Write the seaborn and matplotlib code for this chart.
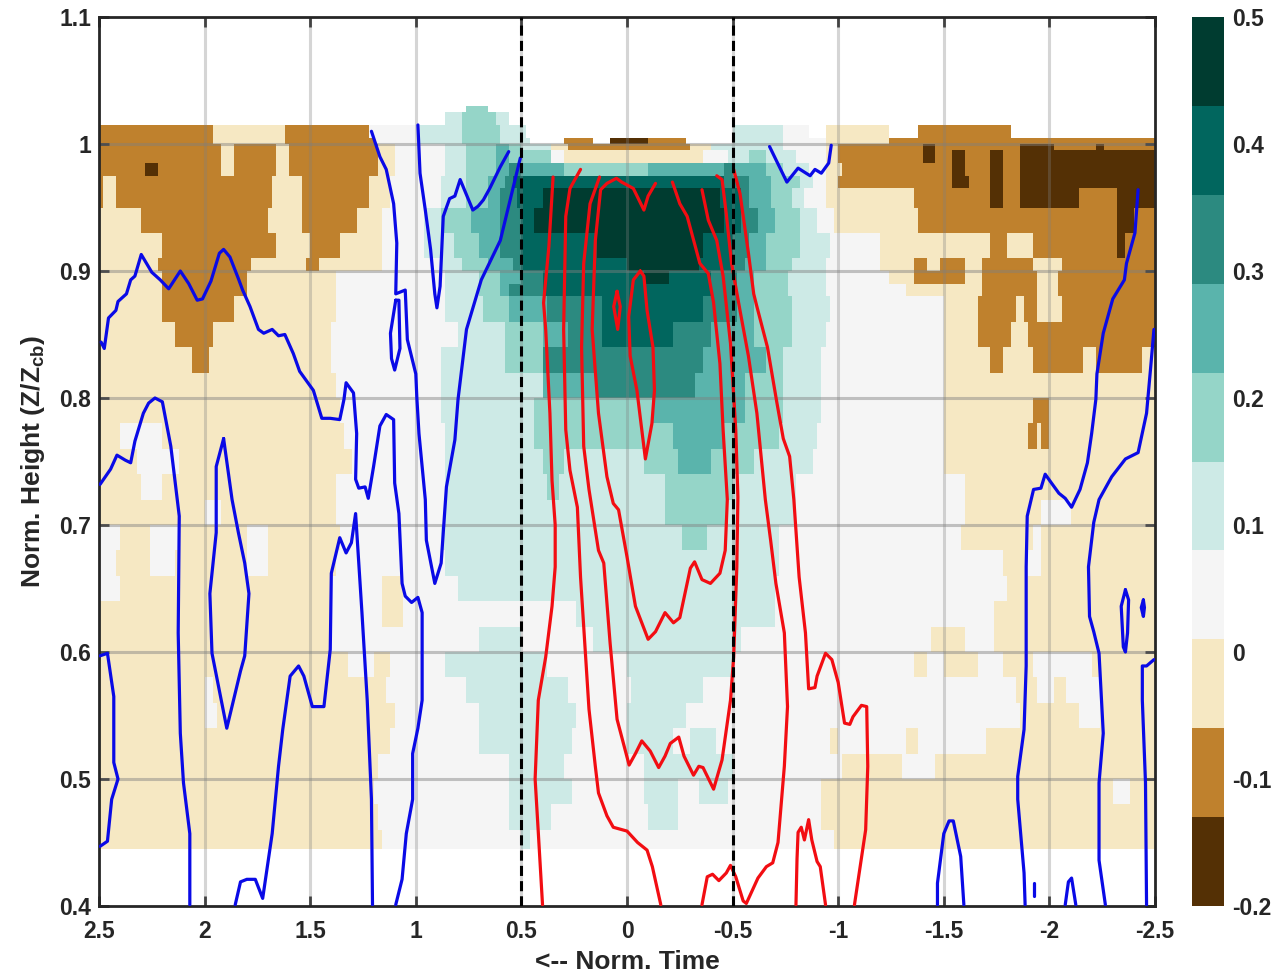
import numpy as np
import pandas as pd
import matplotlib
matplotlib.use("Agg")
import matplotlib.pyplot as plt
from matplotlib.colors import ListedColormap
import seaborn as sns

band_colors = ["#543005", "#bf812d", "#f6e8c3", "#f5f5f5", "#cdeae6",
               "#95d5c8", "#5ab4ac", "#2c8a80", "#01665e", "#003c30"]
cbar_ticks = [-0.2, -0.1, 0, 0.1, 0.2, 0.3, 0.4, 0.5]
cbar_labels = ["-0.2", "-0.1", "0", "0.1", "0.2", "0.3", "0.4", "0.5"]
x_ticks = [2.5, 2, 1.5, 1, 0.5, 0, -0.5, -1, -1.5, -2, -2.5]
x_labels = ["2.5", "2", "1.5", "1", "0.5", "0", "-0.5", "-1", "-1.5", "-2", "-2.5"]
y_ticks = [0.4, 0.5, 0.6, 0.7, 0.8, 0.9, 1, 1.1]
y_labels = ["0.4", "0.5", "0.6", "0.7", "0.8", "0.9", "1", "1.1"]

# band index by height row: pairs of (band, time where the run ends); -1 = no data
heat_tops = [1.03, 1.025, 1.015, 1.005, 1.0, .995, .985, .975, .965, .95, .93, .91, .90, .89, .88,
             .86, .84, .82, .80, .78, .76, .74, .72, .70, .68, .66, .64, .62, .60, .58, .56, .54,
             .52, .50, .48, .46, .445]
heat_runs = [
 [-1,.76, 5,.66, -1,-2.5],
 [-1,.85, 4,.78, 5,.62, 4,.56, -1,-2.5],
 [1,1.96, 2,1.63, 1,1.22, 3,.97, 4,.78, 5,.6, 4,.47, -1,-.5, 4,-.74, 3,-.85, -1,-.93, 2,-1.25, -1,-1.37, 1,-1.82, -1,-2.5],
 [1,1.96, 2,1.63, 1,1.2, 3,.97, 4,.78, 5,.6, 4,.45, -1,.29, 1,.17, -1,.08, 0,-.1, 1,-.28, -1,-.5, 4,-.74, 3,-.93, 2,-1.25, 1,-2.5],
 [1,1.92, 2,1.85, 1,1.66, 2,1.6, 1,1.18, 2,1.1, 3,.85, 4,.76, 5,.62, 6,.55, 5,.5, 4,.35, 2,.28, 1,-.3, 2,-.4, 4,-.74, 3,-.93, 2,-1.0, 1,-1.4, 0,-1.47, 1,-1.86, 0,-2.02, 1,-2.22, 0,-2.27, 1,-2.5],
 [1,1.92, 2,1.85, 1,1.66, 2,1.6, 1,1.18, 2,1.1, 3,.85, 4,.76, 5,.62, 6,.55, 5,.36, 3,.3, 2,-.35, 3,-.48, 4,-.58, 5,-.66, 4,-.8, 3,-.93, 2,-1.0, 1,-1.4, 0,-1.47, 1,-1.55, 0,-1.6, 1,-1.72, 0,-1.79, 1,-1.86, 0,-2.5],
 [1,2.28, 0,2.22, 1,1.91, 2,1.85, 1,1.66, 2,1.6, 1,1.17, 2,1.1, 3,.85, 4,.76, 5,.62, 6,.55, 7,.5, 6,.3, 5,-.1, 6,-.45, 7,-.5, 6,-.66, 5,-.74, 4,-.85, 3,-.93, 2,-1.02, 1,-1.55, 0,-1.6, 1,-1.72, 0,-1.79, 1,-1.86, 0,-2.5],
 [1,2.47, 2,2.42, 1,1.68, 2,1.53, 1,1.22, 2,1.12, 3,.88, 4,.76, 5,.66, 6,.58, 7,.54, 8,-.45, 7,-.58, 6,-.68, 5,-.82, 4,-.88, 3,-.93, 2,-1.01, 1,-1.55, 0,-1.62, 1,-1.72, 0,-1.79, 1,-1.86, 0,-2.5],
 [1,2.47, 2,2.42, 1,1.68, 2,1.53, 1,1.22, 2,1.12, 3,.88, 4,.76, 5,.66, 6,.6, 7,.52, 8,.39, 9,-.44, 8,-.54, 7,-.58, 6,-.68, 5,-.78, 4,-.84, 3,-.95, 2,-1.36, 1,-1.72, 0,-1.79, 1,-1.86, 0,-2.14, 1,-2.32, 0,-2.5],
 [2,2.3, 1,1.7, 2,1.53, 1,1.28, 2,1.15, 3,.95, 4,.87, 5,.74, 6,.6, 7,.5, 8,.44, 9,-.45, 8,-.54, 7,-.62, 6,-.7, 5,-.82, 4,-.9, 3,-.98, 2,-1.37, 1,-2.32, 0,-2.41, 1,-2.5],
 [2,2.2, 1,1.66, 2,1.5, 1,1.36, 2,1.15, 3,.96, 4,.82, 5,.7, 6,.6, 7,.5, 8,.14, 9,-.35, 8,-.5, 7,-.58, 6,-.66, 5,-.82, 4,-.97, 3,-1.2, 2,-1.72, 1,-1.8, 2,-1.92, 1,-2.32, 0,-2.36, 1,-2.5],
 [2,2.22, 1,1.78, 2,1.52, 1,1.45, 2,1.15, 3,.88, 4,.78, 5,.65, 6,.54, 7,.5, 8,.01, 9,-.33, 8,-.5, 7,-.56, 6,-.66, 5,-.78, 4,-.94, 3,-1.2, 2,-1.36, 1,-1.43, 2,-1.48, 1,-1.6, 2,-1.69, 1,-1.92, 2,-2.06, 1,-2.5],
 [2,2.2, 1,1.8, 2,1.37, 3,.86, 4,.7, 5,.6, 6,.5, 7,.39, 8,-.09, 9,-.2, 8,-.39, 7,-.53, 6,-.6, 5,-.77, 4,-.95, 3,-1.25, 2,-1.36, 1,-1.6, 2,-1.69, 1,-1.95, 2,-2.05, 1,-2.5],
 [2,2.2, 1,1.8, 2,1.37, 3,.85, 4,.7, 5,.6, 6,.55, 7,.39, 8,-.39, 7,-.53, 6,-.6, 5,-.77, 4,-.95, 3,-1.33, 2,-1.69, 1,-1.95, 2,-2.05, 1,-2.5],
 [2,2.2, 1,1.85, 2,1.38, 3,.85, 4,.68, 5,.55, 6,.38, 7,.13, 8,-.35, 7,-.53, 6,-.6, 5,-.78, 4,-.97, 3,-1.5, 2,-1.67, 1,-1.84, 2,-1.89, 1,-1.95, 2,-2.06, 1,-2.5],
 [2,2.15, 1,1.95, 2,1.4, 3,.8, 4,.58, 5,.39, 6,.27, 7,.12, 8,-.23, 7,-.4, 6,-.6, 5,-.78, 4,-.95, 3,-1.5, 2,-1.67, 1,-1.83, 2,-1.91, 1,-2.5],
 [2,2.05, 1,1.97, 2,1.4, 3,.87, 4,.58, 5,.39, 7,-.35, 6,-.66, 5,-.74, 4,-.91, 3,-1.5, 2,-1.72, 1,-1.78, 2,-1.92, 1,-2.16, 2,-2.22, 1,-2.44, 2,-2.5],
 [2,1.38, 3,.87, 4,.39, 6,.14, 7,-.32, 6,-.57, 5,-.74, 4,-.91, 3,-1.5, 2,-2.5],
 [2,1.35, 3,.88, 4,.44, 5,-.13, 6,-.56, 5,-.75, 4,-.92, 3,-1.5, 2,-1.93, 1,-2.0, 2,-2.5],
 [2,2.4, 3,2.2, 2,1.33, 3,.86, 4,.44, 5,-.23, 6,-.47, 5,-.73, 4,-.9, 3,-1.5, 2,-1.9, 1,-1.95, 2,-1.96, 1,-2.0, 2,-2.5],
 [2,2.32, 3,2.12, 2,1.3, 3,.85, 4,.39, 5,.29, 4,-.08, 5,-.25, 6,-.4, 5,-.6, 4,-.87, 3,-1.5, 2,-2.5],
 [2,2.3, 3,2.2, 2,1.38, 3,.85, 4,.38, 5,.32, 4,-.19, 5,-.5, 4,-.8, 3,-1.6, 2,-2.5],
 [2,2.0, 3,1.92, 2,1.38, 3,.85, 4,-.19, 5,-.48, 4,-.8, 3,-1.6, 2,-1.97, 3,-2.1, 2,-2.5],
 [3,2.4, 2,2.25, 3,2.12, 2,1.8, 3,1.7, 2,1.35, 3,.87, 4,-.26, 5,-.38, 4,-.72, 3,-1.58, 2,-1.92, 3,-1.97, 2,-2.5],
 [3,2.42, 2,2.25, 3,2.15, 2,1.8, 3,1.7, 2,1.37, 3,.85, 4,-.72, 3,-1.78, 2,-1.91, 3,-1.97, 2,-2.5],
 [3,2.4, 2,1.4, 3,1.15, 2,1.05, 3,.8, 4,-.71, 3,-1.8, 2,-2.5],
 [2,1.4, 3,1.15, 2,1.05, 3,.24, 4,-.71, 3,-1.75, 2,-2.5],
 [2,1.4, 3,.7, 4,.5, 3,.16, 4,-.55, 3,-1.45, 2,-1.6, 3,-1.75, 2,-2.5],
 [2,1.32, 3,1.2, 2,1.12, 3,.85, 4,.38, 3,0, 4,-.5, 3,-1.35, 2,-1.42, 3,-1.5, 2,-1.67, 3,-1.78, 2,-1.93, 3,-2.21, 2,-2.5],
 [2,2.0, 3,1.95, 2,1.13, 3,.75, 4,.28, 3,-.02, 4,-.35, 3,-1.85, 2,-1.94, 3,-2.02, 2,-2.08, 3,-2.24, 2,-2.5],
 [2,2.0, 3,1.93, 2,1.1, 3,.7, 4,.24, 3,0, 4,-.28, 3,-1.86, 2,-2.15, 3,-2.24, 2,-2.5],
 [2,1.12, 3,.7, 4,.26, 3,0, 4,-.22, 3,-.3, 4,-.42, 3,-.96, 2,-1.0, 3,-1.33, 2,-1.38, 3,-1.7, 2,-2.5],
 [2,1.18, 3,.55, 4,.3, 3,-.08, 4,-.5, 3,-1.02, 2,-1.3, 3,-1.46, 2,-2.5],
 [2,1.2, 3,.55, 4,.25, 3,-.08, 4,-.24, 3,-.34, 4,-.48, 3,-.92, 2,-2.3, 3,-2.38, 2,-2.5],
 [2,1.18, 3,.55, 4,.36, 3,-.1, 4,-.25, 3,-.92, 2,-2.5],
 [2,1.15, 3,.5, 4,.46, 3,-.98, 2,-2.5],
 [-1,-2.5],
]

blue_lines = [
 ([2.49,2.475,2.455,2.42,2.41,2.37,2.35,2.33,2.30,2.25,2.21,2.17,2.115,2.075,2.035,2.01,1.97,1.93,1.91,1.88,1.84,1.82,1.785,1.745,1.72,1.68,1.65,1.62,1.58,1.55,1.485,1.445,1.405,1.36,1.34,1.33,1.295,1.28,1.285,1.27,1.24,1.225,1.2,1.17,1.14,1.105,1.1,1.08,1.065,1.05,1.02,.99,.97,.97,.99,1.015,1.015,1.045,1.065,1.095],
  [.844,.839,.863,.869,.876,.882,.893,.896,.913,.899,.893,.886,.9,.89,.877,.878,.892,.914,.917,.911,.894,.885,.872,.854,.851,.854,.849,.85,.835,.821,.806,.784,.784,.783,.799,.812,.804,.772,.736,.729,.73,.721,.746,.778,.787,.783,.733,.709,.654,.644,.639,.643,.631,.562,.54,.52,.484,.457,.421,.401]),
 ([1.21,1.17,1.14,1.105,1.09,1.095,1.05,1.04,1.0,.995,.985,.955,.95,.91,.88,.855,.815,.8,.76,.69,.6,.505],
  [1.01,.99,.98,.953,.922,.882,.885,.846,.819,.8,.772,.72,.688,.654,.67,.73,.767,.799,.854,.893,.924,.989]),
 ([1.095,1.12,1.115,1.1,1.075,1.08,1.095],[.877,.851,.831,.822,.839,.877,.877]),
 ([.99,.98,.955,.93,.91,.90,.885,.87,.84,.815,.79,.77,.73,.705,.68,.65,.6,.56],
  [1.015,.977,.948,.917,.882,.871,.888,.943,.957,.959,.972,.964,.948,.951,.956,.965,.982,.994]),
 ([2.495,2.445,2.415,2.375,2.35,2.33,2.29,2.265,2.235,2.2,2.16,2.12,2.125,2.115,2.1,2.07,2.07],
  [.732,.744,.755,.751,.749,.766,.788,.796,.8,.797,.762,.707,.615,.536,.497,.457,.401]),
 ([1.91,1.945,1.945,1.975,1.965,1.895,1.83,1.81,1.79,1.81,1.84,1.87,1.91],
  [.768,.746,.694,.646,.599,.54,.585,.597,.646,.67,.694,.72,.768]),
 ([2.495,2.46,2.43,2.43,2.41,2.44,2.46,2.495],[.597,.599,.565,.513,.5,.484,.451,.447]),
 ([1.855,1.83,1.8,1.76,1.725,1.68,1.65,1.63,1.595,1.555,1.53,1.49,1.435,1.405,1.4,1.36,1.33,1.305,1.285,1.255,1.23,1.21,1.205],
  [.401,.419,.421,.421,.406,.457,.51,.539,.581,.589,.581,.557,.557,.602,.662,.69,.678,.686,.709,.631,.562,.484,.401]),
 ([-.675,-.71,-.757,-.81,-.867,-.89,-.92,-.955,-.967],[.998,.986,.97,.981,.975,.98,.977,.985,.999]),
 ([-1.885,-1.88,-1.85,-1.85,-1.88,-1.89,-1.89,-1.895,-1.925,-1.96,-1.98,-2.01,-2.045,-2.075,-2.105,-2.145,-2.18,-2.2,-2.22,-2.225,-2.255,-2.3,-2.355,-2.365,-2.405,-2.42],
  [.401,.426,.484,.502,.539,.589,.667,.707,.728,.729,.74,.733,.725,.721,.714,.728,.749,.772,.799,.819,.851,.878,.893,.906,.93,.964]),
 ([-2.265,-2.235,-2.235,-2.255,-2.235,-2.21,-2.19,-2.185,-2.21,-2.235,-2.295,-2.36,-2.42,-2.46,-2.48,-2.495],
  [.401,.436,.497,.536,.599,.616,.628,.667,.702,.72,.738,.752,.757,.788,.825,.854]),
 ([-2.36,-2.34,-2.35,-2.36,-2.37,-2.375,-2.36],[.649,.636,.604,.6,.615,.641,.649]),
 ([-2.445,-2.435,-2.445,-2.45,-2.445],[.641,.635,.628,.635,.641]),
 ([-1.925,-1.925],[.418,.408]),
 ([-2.46,-2.455,-2.44,-2.44,-2.46,-2.495],[.401,.497,.562,.589,.589,.594]),
 ([-1.47,-1.47,-1.5,-1.525,-1.545,-1.58,-1.595],[.401,.418,.457,.467,.467,.439,.401]),
 ([-2.075,-2.09,-2.105,-2.125],[.401,.419,.422,.401]),
]

red_lines = [
 ([.35,.37,.395,.385,.365,.355,.34,.34,.355,.385,.42,.435,.42,.4],
  [.974,.919,.875,.854,.788,.735,.7,.667,.636,.596,.562,.5,.458,.401]),
 ([.22,.27,.29,.3,.29,.27,.235,.22,.18,.15,.135,.095,.065,0,-.05,-.095,-.12,-.16],
  [.98,.965,.943,.854,.775,.743,.714,.659,.555,.51,.489,.471,.462,.459,.45,.444,.431,.401]),
 ([.13,.175,.205,.215,.205,.18,.135,.11,.08,.047,-.01,-.04,-.07,-.11,-.15,-.18,-.205,-.245,-.27,-.315,-.34,-.36,-.41,-.45,-.49,-.505,-.52,-.525,-.515,-.49,-.455,-.425,-.385,-.355],
  [.974,.953,.906,.84,.762,.728,.68,.67,.607,.547,.511,.52,.53,.522,.509,.518,.528,.533,.518,.503,.51,.509,.492,.515,.562,.596,.667,.722,.775,.843,.896,.924,.94,.964]),
 ([-.135,-.1,-.08,-.03,.025,.05,.095,.125,.15,.165,.135,.095,.065,.04,0,-.04,-.10,-.135,-.18,-.22,-.25,-.3,-.32,-.355,-.395,-.44,-.465,-.475,-.455,-.44,-.41,-.385,-.345,-.285,-.25,-.215],
  [.969,.959,.948,.965,.97,.973,.969,.964,.924,.854,.788,.738,.717,.712,.675,.636,.61,.616,.631,.623,.627,.666,.671,.657,.654,.662,.68,.72,.775,.827,.875,.898,.906,.943,.953,.97]),
 ([-.355,-.38,-.405,-.435,-.47,-.49,-.515,-.55,-.565,-.62,-.66,-.69,-.715,-.745,-.76,-.745,-.705,-.68,-.655,-.615,-.575,-.535,-.495,-.47,-.45,-.425],
  [.401,.423,.425,.42,.426,.432,.423,.404,.402,.422,.431,.434,.45,.51,.557,.615,.654,.688,.72,.788,.833,.869,.906,.945,.972,.975]),
 ([-1.077,-1.13,-1.14,-1.135,-1.11,-1.07,-1.055,-1.03,-1.0,-.97,-.94,-.9,-.89,-.86,-.845,-.815,-.79,-.77,-.74,-.71,-.665,-.615,-.6,-.575,-.535,-.505],
  [.401,.46,.51,.557,.558,.549,.543,.544,.576,.594,.599,.581,.572,.571,.615,.659,.72,.754,.768,.796,.84,.872,.882,.914,.961,.98]),
 ([-.8,-.805,-.81,-.825,-.84,-.86,-.875,-.9,-.915,-.94],[.401,.437,.458,.462,.452,.468,.452,.435,.431,.401]),
 ([-.063,-.03,-.008,-.015,-.047,-.087,-.118,-.13,-.123,-.095,-.08,-.063],
  [.9,.893,.864,.833,.806,.752,.78,.806,.84,.869,.896,.9]),
 ([.047,.063,.044,.032,.047],[.884,.872,.854,.872,.884]),
]

sns.set_theme(style="white")
plt.rcParams["font.family"] = ["Liberation Sans", "DejaVu Sans"]
plt.rcParams["mathtext.fontset"] = "custom"
plt.rcParams["mathtext.bf"] = "Liberation Sans:bold"
plt.rcParams["mathtext.rm"] = "Liberation Sans:bold"

# Fill the grid from the runs
t_edges = np.linspace(2.5, -2.5, 251)
h_edges = np.linspace(1.1, 0.4, 141)
t_mid = (t_edges[:-1] + t_edges[1:]) / 2
h_mid = (h_edges[:-1] + h_edges[1:]) / 2
grid = np.full((len(h_mid), len(t_mid)), np.nan)
for i, h in enumerate(h_mid):
    idx = [k for k, top in enumerate(heat_tops) if top >= h]
    if not idx:
        continue
    runs = heat_runs[idx[-1]]
    levels, ends = runs[0::2], runs[1::2]
    for j, t in enumerate(t_mid):
        lev = levels[-1]
        for L, e in zip(levels, ends):
            if t > e:
                lev = L
                break
        if lev >= 0:
            grid[i, j] = -0.2 + 0.07 * (lev + 0.5)
frame = pd.DataFrame(grid, index=np.round(h_mid, 4), columns=np.round(t_mid, 3))

W, H = 1274, 973
fig = plt.figure(figsize=(W / 100, H / 100), dpi=100, facecolor="white")
pos = [99 / W, (H - 906) / H, 1056 / W, 889 / H]
ax = fig.add_axes(pos)
cax = fig.add_axes([1192 / W, (H - 906) / H, 32 / W, 889 / H])
sns.heatmap(frame, ax=ax, cbar_ax=cax, cmap=ListedColormap(band_colors), vmin=-0.2, vmax=0.5,
            xticklabels=False, yticklabels=False, cbar_kws={"ticks": cbar_ticks})
ax.set_xlabel("")
ax.set_ylabel("")
cax.set_yticks(cbar_ticks)
cax.set_yticklabels(cbar_labels, fontsize=16.5, fontweight="bold", color="#262626")
cax.tick_params(axis="y", length=0, pad=6)
for s in cax.spines.values():
    s.set_visible(False)
ax.collections[0].colorbar.outline.set_visible(False)

ov = fig.add_axes(pos, facecolor="none")
ov.set_xlim(2.5, -2.5)
ov.set_ylim(0.4, 1.1)
for t in x_ticks[1:-1]:
    ov.axvline(t, color="#7f7f7f", alpha=0.32, lw=2.2, zorder=1)
for h in y_ticks[1:-1]:
    ov.axhline(h, color="#7f7f7f", alpha=0.45, lw=2.2, zorder=1)

for xs, ys in blue_lines:
    sns.lineplot(x=xs, y=ys, ax=ov, sort=False, estimator=None, color="#0a0ae6", lw=2.3, zorder=3,
                 legend=False, solid_joinstyle="round")
for xs, ys in red_lines:
    sns.lineplot(x=xs, y=ys, ax=ov, sort=False, estimator=None, color="#f20d12", lw=2.3, zorder=3,
                 legend=False, solid_joinstyle="round")
for t in (0.5, -0.5):
    ov.axvline(t, color="black", lw=2.2, ls=(0, (3.3, 1.7)), zorder=4)

ov.set_xlim(2.5, -2.5)
ov.set_ylim(0.4, 1.1)
ov.set_xticks(x_ticks)
ov.set_xticklabels(x_labels, fontsize=16.5, fontweight="bold", color="#262626")
ov.set_yticks(y_ticks)
ov.set_yticklabels(y_labels, fontsize=16.5, fontweight="bold", color="#262626")
ov.tick_params(axis="both", direction="in", length=7, width=2, color="#262626", top=True, right=True, left=True, bottom=True)
ov.tick_params(axis="x", pad=10)
ov.tick_params(axis="y", pad=5.5)
for s in ov.spines.values():
    s.set_visible(True)
    s.set_linewidth(2)
    s.set_color("#262626")
ov.set_xlabel("<-- Norm. Time", fontsize=19, fontweight="bold", color="#262626", labelpad=5)
ov.set_ylabel(r"Norm. Height (Z/Z$_{\mathbf{cb}}$)", fontsize=19, fontweight="bold", color="#262626", labelpad=9)

fig.savefig("out.png", dpi=100, facecolor="white")
